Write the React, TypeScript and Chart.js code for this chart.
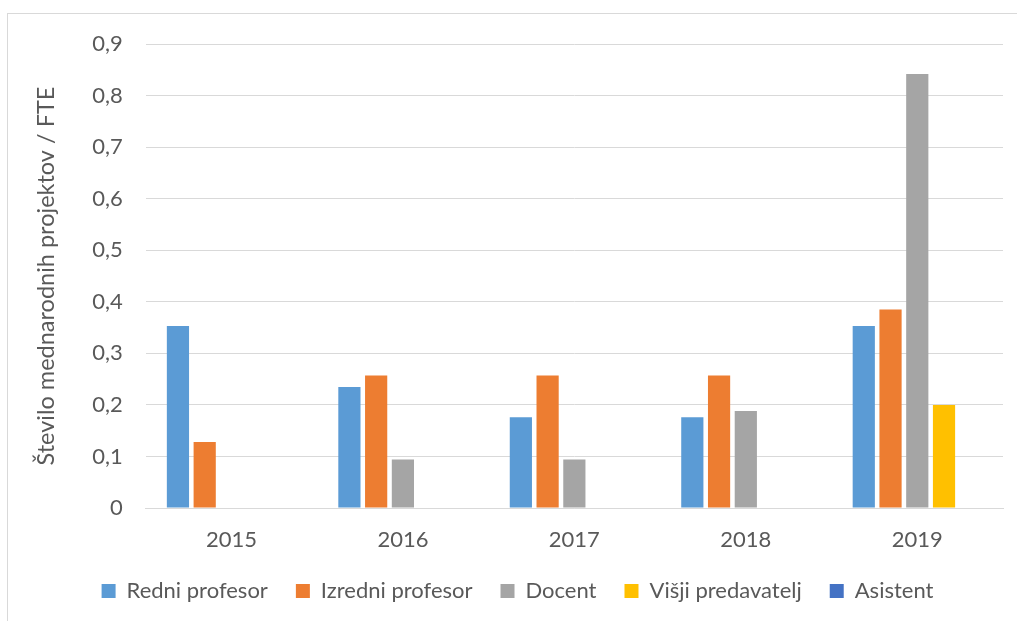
import React, { useEffect, useRef } from "react";
import { Chart, registerables } from "chart.js";

Chart.register(...registerables);

const categories = ["2015", "2016", "2017", "2018", "2019"];
const redniProfesor = [0.353, 0.235, 0.176, 0.176, 0.353];
const izredniProfesor = [0.128, 0.257, 0.257, 0.257, 0.385];
const docent = [0, 0.094, 0.094, 0.188, 0.842];
const visjiPredavatelj = [0, 0, 0, 0, 0.2];
const asistent = [0, 0, 0, 0, 0];
const yTicks = [0, 0.1, 0.2, 0.3, 0.4, 0.5, 0.6, 0.7, 0.8, 0.9];

const FONT = "Lato, 'Open Sans', sans-serif";
const TEXT = "#595959";

export default function App() {
  const ref = useRef<HTMLCanvasElement | null>(null);

  useEffect(() => {
    document.body.style.overflow = "hidden";
    const ctx = ref.current!.getContext("2d")!;
    const mk = (label: string, data: number[], color: string) => ({
      label,
      data,
      backgroundColor: color,
      borderColor: color,
      borderWidth: 0,
      categoryPercentage: 0.78,
      barPercentage: 0.83,
    });
    const chart = new Chart(ctx, {
      type: "bar",
      data: {
        labels: categories,
        datasets: [
          mk("Redni profesor", redniProfesor, "#5B9BD5"),
          mk("Izredni profesor", izredniProfesor, "#ED7D31"),
          mk("Docent", docent, "#A5A5A5"),
          mk("Višji predavatelj", visjiPredavatelj, "#FFC000"),
          mk("Asistent", asistent, "#4472C4"),
        ],
      },
      options: {
        animation: false,
        responsive: false,
        maintainAspectRatio: false,
        layout: { padding: { top: 4, right: 14, bottom: 0, left: 24 } },
        plugins: {
          tooltip: { enabled: false },
          legend: {
            position: "bottom",
            labels: {
              boxWidth: 14,
              boxHeight: 14,
              padding: 28,
              color: TEXT,
              font: { family: FONT, size: 22 },
            },
          },
        },
        scales: {
          x: {
            grid: { display: false, drawTicks: false },
            border: { display: true, color: "#d9d9d9", width: 1 },
            ticks: { color: TEXT, font: { family: FONT, size: 22 }, padding: 19 },
            afterFit: (scale: any) => {
              scale.height = 44;
            },
          },
          y: {
            min: 0,
            max: 0.9,
            afterBuildTicks: (axis: any) => {
              axis.ticks = yTicks.map((v) => ({ value: v }));
            },
            grid: { color: "#d9d9d9", lineWidth: 1, drawTicks: false },
            border: { display: false },
            ticks: {
              color: TEXT,
              font: { family: FONT, size: 22 },
              padding: 23,
              callback: (v: any) => (v === 0 ? "0" : Number(v).toFixed(1).replace(".", ",")),
            },
            title: {
              display: true,
              text: "Število mednarodnih projektov / FTE",
              color: TEXT,
              font: { family: FONT, size: 23.5 },
              padding: { top: 0, bottom: 9 },
            },
          },
        },
      },
    });
    return () => chart.destroy();
  }, []);

  return (
    <div
      style={{
        position: "fixed",
        left: 7,
        top: 13,
        width: 1040,
        height: 640,
        border: "1px solid #d9d9d9",
        background: "#fff",
      }}
    >
      <canvas
        ref={ref}
        width={1009}
        height={604}
        style={{ position: "absolute", left: 0, top: -6, display: "block", width: 1009, height: 604 }}
      />
    </div>
  );
}
